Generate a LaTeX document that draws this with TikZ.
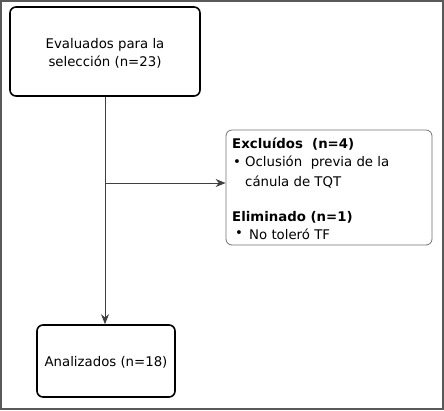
\documentclass[tikz,border=0pt]{standalone}
\usepackage{fontspec}
\setmainfont{DejaVu Sans}
\usetikzlibrary{arrows.meta,calc}
\begin{document}
\begin{tikzpicture}[x=1pt,y=-1pt,
  mainbox/.style={draw=black,line width=1.6pt,rounded corners=6pt,fill=white},
  sidebox/.style={draw=black!55,line width=0.8pt,rounded corners=6pt,fill=white},
  conn/.style={draw=black!75,line width=0.9pt,-{Stealth[length=10pt,width=8pt]}},
  txt/.style={font=\fontsize{13.3}{18}\selectfont,inner sep=0pt},
  btxt/.style={font=\fontsize{13.3}{18}\selectfont\bfseries,inner sep=0pt}]
\useasboundingbox (0,0) rectangle (444,410);
\draw[black!65,line width=2pt] (1,1) rectangle (443,409);
\node[mainbox,minimum width=190pt,minimum height=89pt] (top) at (105,51.5) {};
\node[txt,align=center] (toptext) at (105,53) {Evaluados para la\\selección (n=23)};
\node[mainbox,minimum width=138pt,minimum height=72pt] (bot) at (106,361) {};
\node[txt] (bottext) at (106,362) {Analizados (n=18)};
\node[sidebox,minimum width=206pt,minimum height=115pt] (side) at (329,187.5) {};
\node[btxt,anchor=west] (t1) at (232,144) {Excluídos\ \ (n=4)};
\node[txt,anchor=west] (t2b) at (233,163) {•};
\node[txt,anchor=west] (t2) at (245,163) {Oclusión\ \ previa de la};
\node[txt,anchor=west] (t3) at (245,182) {cánula de TQT};
\node[btxt,anchor=west] (t4) at (232,217) {Eliminado (n=1)};
\node[txt,anchor=west] (t5b) at (235,234) {•};
\node[txt,anchor=west] (t5) at (249,234) {No toleró TF};
\coordinate (j) at (top.south |- 0,183);
\draw[conn] (top.south) -- (top.south |- bot.north);
\draw[conn] (j) -- (j -| side.west);
\end{tikzpicture}
\end{document}
